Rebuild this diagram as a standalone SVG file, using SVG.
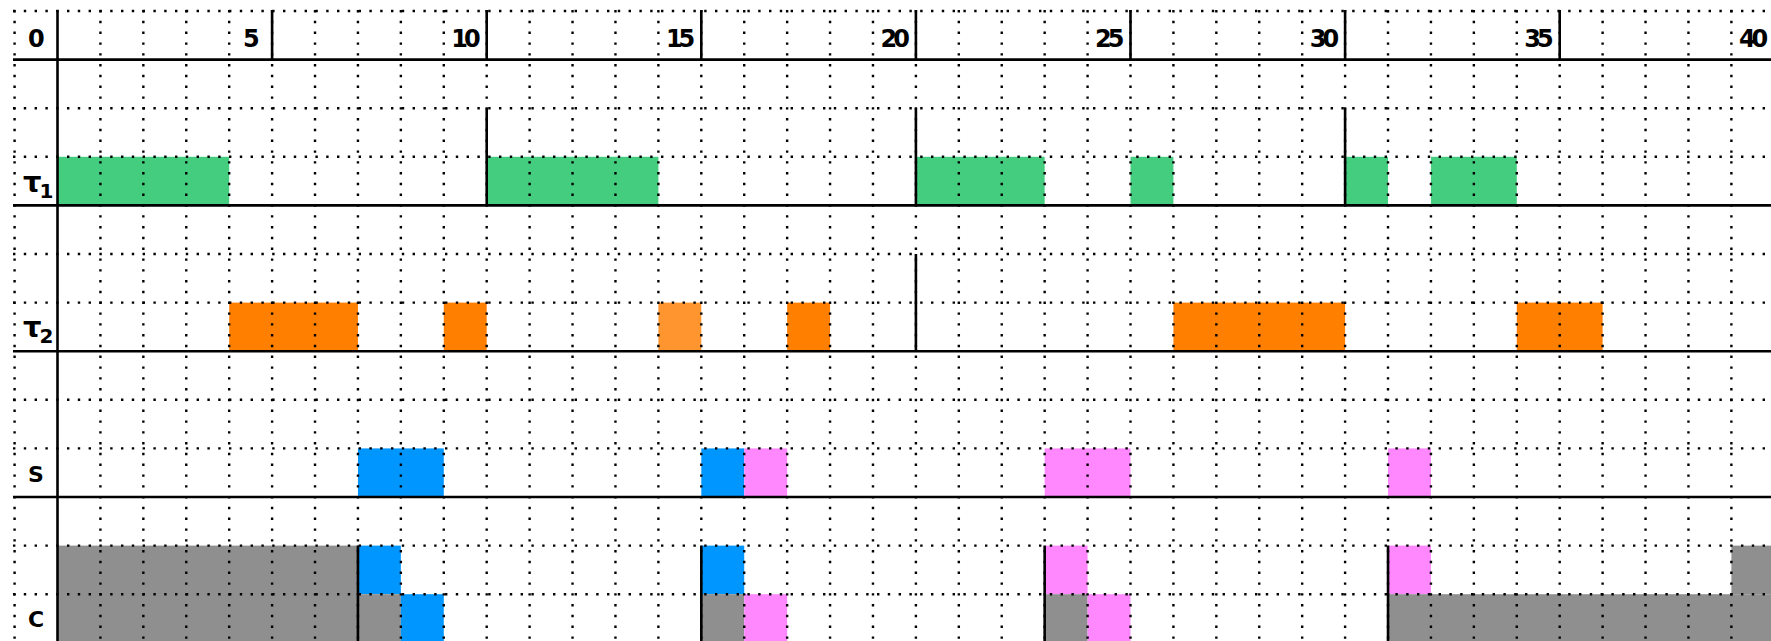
<svg xmlns="http://www.w3.org/2000/svg" width="1771" height="641" viewBox="0 0 1771 641">
<style>
.g{fill:#44CC7F}
.o{fill:#FF7F00}
.ol{fill:#FF952E}
.b{fill:#0096FF}
.p{fill:#FF88FF}
.k{fill:#8F8F8F}
.dot{stroke:#000;stroke-width:2.4;stroke-dasharray:2.4 8.4;fill:none}
.sol{stroke:#000;stroke-width:2.6;fill:none}
.num{font-family:"DejaVu Sans",Verdana,sans-serif;font-weight:bold;font-size:24px;fill:#000;text-anchor:end}
.num2{letter-spacing:-4px}
.lab{font-family:"DejaVu Sans",Verdana,sans-serif;font-weight:bold;font-size:22px;fill:#000}
.tau{font-size:29px}
.sub{font-size:20px}
</style>
<rect width="1771" height="641" fill="#fff"/>
<g id="tau1-bars">
<rect class="g" x="57.5" y="156.8" width="171.68" height="48.6"/>
<rect class="g" x="486.7" y="156.8" width="171.68" height="48.6"/>
<rect class="g" x="915.9" y="156.8" width="128.76" height="48.6"/>
<rect class="g" x="1130.5" y="156.8" width="42.92" height="48.6"/>
<rect class="g" x="1345.1" y="156.8" width="42.92" height="48.6"/>
<rect class="g" x="1430.94" y="156.8" width="85.84" height="48.6"/>
</g>
<g id="tau2-bars">
<rect class="o" x="229.18" y="302.6" width="128.76" height="48.6"/>
<rect class="o" x="443.78" y="302.6" width="42.92" height="48.6"/>
<rect class="ol" x="658.38" y="302.6" width="42.92" height="48.6"/>
<rect class="o" x="787.14" y="302.6" width="42.92" height="48.6"/>
<rect class="o" x="1173.42" y="302.6" width="171.68" height="48.6"/>
<rect class="o" x="1516.78" y="302.6" width="85.84" height="48.6"/>
</g>
<g id="S-bars">
<rect class="b" x="357.94" y="448.4" width="85.84" height="48.6"/>
<rect class="b" x="701.3" y="448.4" width="42.92" height="48.6"/>
<rect class="p" x="744.22" y="448.4" width="42.92" height="48.6"/>
<rect class="p" x="1044.66" y="448.4" width="85.84" height="48.6"/>
<rect class="p" x="1388.02" y="448.4" width="42.92" height="48.6"/>
</g>
<g id="C-bars">
<rect class="k" x="57.5" y="545.6" width="300.44" height="97.2"/>
<rect class="b" x="357.94" y="545.6" width="42.92" height="48.6"/>
<rect class="k" x="357.94" y="594.2" width="42.92" height="48.6"/>
<rect class="b" x="400.86" y="594.2" width="42.92" height="48.6"/>
<rect class="b" x="701.3" y="545.6" width="42.92" height="48.6"/>
<rect class="k" x="701.3" y="594.2" width="42.92" height="48.6"/>
<rect class="p" x="744.22" y="594.2" width="42.92" height="48.6"/>
<rect class="p" x="1044.66" y="545.6" width="42.92" height="48.6"/>
<rect class="k" x="1044.66" y="594.2" width="42.92" height="48.6"/>
<rect class="p" x="1087.58" y="594.2" width="42.92" height="48.6"/>
<rect class="p" x="1388.02" y="545.6" width="42.92" height="48.6"/>
<rect class="k" x="1388.02" y="594.2" width="386.28" height="48.6"/>
<rect class="k" x="1731.38" y="545.6" width="42.92" height="48.6"/>
</g>
<g id="grid-dotted">
<path class="dot" d="M13 11H1771M13 108.2H1771M13 156.8H1771M13 254H1771M13 302.6H1771M13 399.8H1771M13 448.4H1771M13 545.6H1771M13 594.2H1771"/>
<path class="dot" d="M14.58 10V641M100.42 10V641M143.34 10V641M186.26 10V641M229.18 10V641M272.1 10V641M315.02 10V641M357.94 10V641M400.86 10V641M443.78 10V641M486.7 10V641M529.62 10V641M572.54 10V641M615.46 10V641M658.38 10V641M701.3 10V641M744.22 10V641M787.14 10V641M830.06 10V641M872.98 10V641M915.9 10V641M958.82 10V641M1001.74 10V641M1044.66 10V641M1087.58 10V641M1130.5 10V641M1173.42 10V641M1216.34 10V641M1259.26 10V641M1302.18 10V641M1345.1 10V641M1388.02 10V641M1430.94 10V641M1473.86 10V641M1516.78 10V641M1559.7 10V641M1602.62 10V641M1645.54 10V641M1688.46 10V641M1731.38 10V641"/>
</g>
<g id="connectors">
<path class="sol" d="M13 59.6H1771M13 205.4H1771M13 351.2H1771M13 497H1771"/>
<path class="sol" d="M57.5 10V641"/>
<path class="sol" d="M272.1 10V59.6M486.7 10V59.6M701.3 10V59.6M915.9 10V59.6M1130.5 10V59.6M1345.1 10V59.6M1559.7 10V59.6"/>
<path class="sol" d="M486.7 108.2V205.4M915.9 108.2V205.4M1345.1 108.2V205.4"/>
<path class="sol" d="M915.9 254V351.2"/>
<path class="sol" d="M357.94 545.6V641M701.3 545.6V641M1044.66 545.6V641M1388.02 545.6V641"/>
</g>
<g id="axis-labels">
<text class="num" x="44.8" y="47">0</text>
<text class="num" x="259.7" y="47">5</text>
<text class="num num2" x="476.7" y="47">10</text>
<text class="num num2" x="691.3" y="47">15</text>
<text class="num num2" x="905.9" y="47">20</text>
<text class="num num2" x="1120.5" y="47">25</text>
<text class="num num2" x="1335.1" y="47">30</text>
<text class="num num2" x="1549.7" y="47">35</text>
<text class="num num2" x="1764.3" y="47">40</text>
</g>
<g id="row-labels">
<text class="lab tau" x="23" y="192">τ<tspan class="sub" dx="-2" dy="6">1</tspan></text>
<text class="lab tau" x="23" y="337">τ<tspan class="sub" dx="-2" dy="6">2</tspan></text>
<text class="lab" x="36" y="482" text-anchor="middle">S</text>
<text class="lab" x="36" y="627" text-anchor="middle">C</text>
</g>
</svg>
